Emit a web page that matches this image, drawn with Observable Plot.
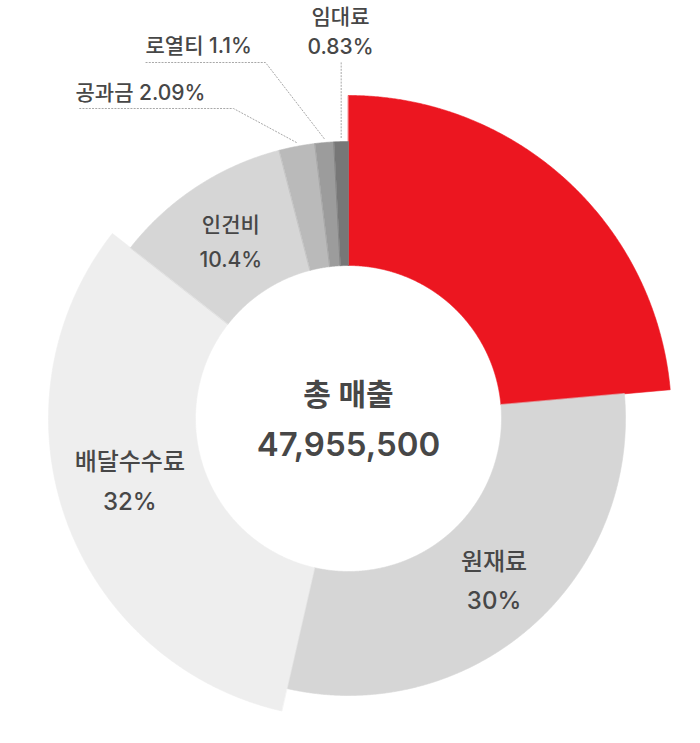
<!DOCTYPE html>
<html><head><meta charset="utf-8">
<script src="https://cdn.jsdelivr.net/npm/d3@7"></script>
<script src="https://cdn.jsdelivr.net/npm/@observablehq/plot@0.6"></script>
<style>
body{margin:0;background:#fff}
#chart svg{display:block}
</style>
</head><body><div id="chart"></div>
<script>
// ---- data ----
const categories = ["순이익", "원재료", "배달수수료", "인건비", "공과금", "로열티", "임대료"];
const shares = [23.58, 30, 32, 10.4, 2.09, 1.1, 0.83];
const shareLabels = ["", "30%", "32%", "10.4%", "2.09%", "1.1%", "0.83%"];
const totalTitle = "총 매출";
const totalSales = 47955500;

// ---- styles / layout ----
const colors = ["#ec1620", "#d6d6d6", "#eeeeee", "#d6d6d6", "#bababa", "#9c9c9c", "#777777"];
const W = 700, H = 743, CX = 348, CY = 418;
const innerR = 153;
const outerR = [323, 277, 300, 277, 277, 277, 277];
const labelKind = ["none", "inside", "inside", "inside", "callout", "callout", "callout"];
const insideNudgeDeg = [0, -1.5, 4.4, 0, 0, 0, 0];
const insideFont = [0, 24, 24, 21, 0, 0, 0];
// callout layout: leader row height, elbow x, leader start x, text position
const callouts = {
  "공과금": {row: -310, elbowX: -115, startX: -270, textX: -273, textY: -325, anchor: "start", twoLine: false},
  "로열티": {row: -356, elbowX: -83, startX: -203, textX: -203, textY: -372, anchor: "start", twoLine: false},
  "임대료": {row: -356, elbowX: null, startX: null, textX: -8, textY: -389, anchor: "middle", twoLine: true}
};
const textColor = "#474747";
const font = "Inter, 'Noto Sans CJK KR', 'Noto Sans', sans-serif";

// ---- geometry from data ----
const total = d3.sum(shares);
let cum = 0;
const slices = categories.map((name, i) => {
  const a0 = cum / total * 2 * Math.PI;
  cum += shares[i];
  const a1 = cum / total * 2 * Math.PI;
  return {name, i, a0, a1, mid: (a0 + a1) / 2, R: outerR[i]};
});
const pt = (r, a) => ({x: r * Math.sin(a), y: -r * Math.cos(a)});

const slicePts = [];
for (const s of slices) {
  const n = Math.max(4, Math.ceil((s.a1 - s.a0) / 0.004));
  for (let k = 0; k <= n; k++) {
    const a = s.a0 + (s.a1 - s.a0) * k / n;
    slicePts.push({name: s.name, ...pt(s.R, a)});
  }
  for (let k = n; k >= 0; k--) {
    const a = s.a0 + (s.a1 - s.a0) * k / n;
    slicePts.push({name: s.name, ...pt(innerR, a)});
  }
}

const insideLabels = slices.filter(s => labelKind[s.i] === "inside").map(s => {
  const a = s.mid + insideNudgeDeg[s.i] * Math.PI / 180;
  const r = (innerR + s.R) / 2;
  return {...pt(r, a), text: s.name + "\n" + shareLabels[s.i], size: insideFont[s.i]};
});

const leaderPts = [];
const calloutTexts = [];
for (const s of slices.filter(s => labelKind[s.i] === "callout")) {
  const c = callouts[s.name];
  const p = pt(s.R + 4, s.mid);
  leaderPts.push({name: s.name, x: p.x, y: p.y});
  if (c.elbowX === null) {
    leaderPts.push({name: s.name, x: p.x, y: c.row});
  } else {
    leaderPts.push({name: s.name, x: c.elbowX, y: c.row});
    leaderPts.push({name: s.name, x: c.startX, y: c.row});
  }
  calloutTexts.push({x: c.textX, y: c.textY, anchor: c.anchor,
    text: c.twoLine ? s.name + "\n" + shareLabels[s.i] : s.name + " " + shareLabels[s.i]});
}

const sizes = [...new Set(insideLabels.map(d => d.size))];

const chart = Plot.plot({
  width: W, height: H,
  margin: 0,
  style: {fontFamily: font, background: "#fff"},
  x: {domain: [-CX, W - CX], range: [0, W], axis: null},
  y: {domain: [-CY, H - CY], range: [0, H], axis: null},
  color: {domain: categories, range: colors},
  marks: [
    Plot.line(slicePts, {x: "x", y: "y", z: "name", fill: "name", stroke: "name", strokeWidth: 0.6, curve: "linear-closed"}),
    Plot.line(leaderPts, {x: "x", y: "y", z: "name", stroke: "#a8a8a8", strokeWidth: 1, strokeDasharray: "1.2,2"}),
    ...sizes.map(sz => Plot.text(insideLabels.filter(d => d.size === sz), {
      x: "x", y: "y", text: "text", fontSize: sz, fontWeight: 500, fill: textColor, lineHeight: 1.65
    })),
    Plot.text(calloutTexts.filter(d => d.anchor === "start"), {x: "x", y: "y", text: "text", textAnchor: "start", fontSize: 21, fontWeight: 500, fill: textColor}),
    Plot.text(calloutTexts.filter(d => d.anchor === "middle"), {x: "x", y: "y", text: "text", fontSize: 21, fontWeight: 500, fill: textColor, lineHeight: 1.45}),
    Plot.text([totalTitle], {x: 0, y: -23, text: d => d, fontSize: 30, fontWeight: 600, fill: textColor}),
    Plot.text([totalSales], {x: 0, y: 27, text: d => d3.format(",")(d), fontSize: 33, fontWeight: 600, fill: textColor})
  ]
});
document.getElementById("chart").appendChild(chart);
</script>
</body></html>
